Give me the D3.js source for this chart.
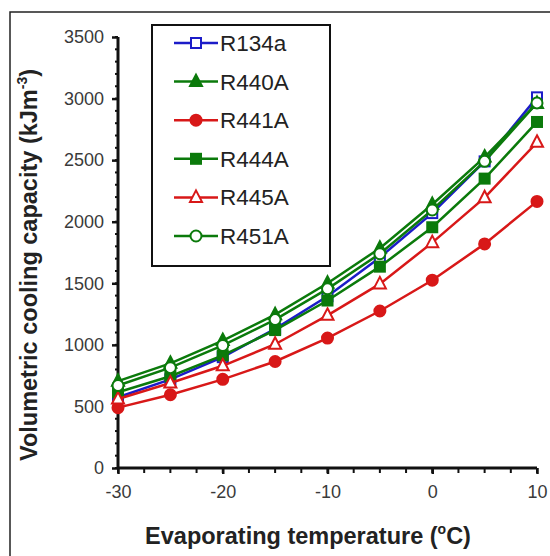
<!DOCTYPE html>
<html><head><meta charset="utf-8">
<script src="https://cdn.jsdelivr.net/npm/d3@7"></script>
<style>body{margin:0;background:#fff}svg{display:block}text{font-family:"Liberation Sans",Arial,sans-serif}</style>
</head><body>
<svg id="c" width="550" height="556"></svg>
<script>
const temps = [-30, -25, -20, -15, -10, -5, 0, 5, 10];
const R134a = [575, 720, 900, 1130, 1395, 1710, 2070, 2490, 3010];
const R440A = [705, 850, 1035, 1245, 1500, 1785, 2140, 2525, 2960];
const R441A = [490, 595, 720, 865, 1055, 1275, 1525, 1820, 2165];
const R444A = [615, 745, 915, 1120, 1360, 1635, 1955, 2350, 2810];
const R445A = [560, 690, 830, 1005, 1240, 1495, 1830, 2195, 2645];
const R451A = [670, 815, 995, 1205, 1455, 1740, 2095, 2490, 2965];
const xTicks = [-30, -20, -10, 0, 10];
const yTicks = [0, 500, 1000, 1500, 2000, 2500, 3000, 3500];

const series = [
  {name: "R134a", values: R134a, color: "#1c1cc8", shape: "square", fill: false},
  {name: "R440A", values: R440A, color: "#0b7a0b", shape: "triangle", fill: true},
  {name: "R441A", values: R441A, color: "#d81818", shape: "circle", fill: true},
  {name: "R444A", values: R444A, color: "#0b7a0b", shape: "square", fill: true},
  {name: "R445A", values: R445A, color: "#d81818", shape: "triangle", fill: false},
  {name: "R451A", values: R451A, color: "#0b7a0b", shape: "circle", fill: false}
];

const svg = d3.select("#c");
const x = d3.scaleLinear().domain([-30, 10]).range([118, 537]);
const y = d3.scaleLinear().domain([0, 3500]).range([468, 37]);

// outer frame
svg.append("rect").attr("x", 10).attr("y", 12).attr("width", 600).attr("height", 600)
  .attr("fill", "none").attr("stroke", "#222").attr("stroke-width", 1.5);

// minor ticks
const g = svg.append("g");
g.selectAll(".ym").data(d3.range(0, 3501, 100)).join("line")
  .attr("x1", x(-30) - 3).attr("x2", x(-30)).attr("y1", d => y(d)).attr("y2", d => y(d))
  .attr("stroke", "#111").attr("stroke-width", 2);
g.selectAll(".xm").data(d3.range(-30, 10.01, 2.5)).join("line")
  .attr("x1", d => x(d)).attr("x2", d => x(d)).attr("y1", y(0)).attr("y2", y(0) + 5)
  .attr("stroke", "#111").attr("stroke-width", 2);

// axes
const yAxis = d3.axisLeft(y).tickValues(yTicks).tickSize(6).tickPadding(8).tickFormat(d => String(d));
const xAxis = d3.axisBottom(x).tickValues(xTicks).tickSize(6).tickPadding(11).tickFormat(d => String(d));
const ya = svg.append("g").attr("transform", `translate(${x(-30)},0)`).call(yAxis);
const xa = svg.append("g").attr("transform", `translate(0,${y(0)})`).call(xAxis);
[ya, xa].forEach(a => {
  a.select(".domain").attr("stroke", "#111").attr("stroke-width", 3);
  a.selectAll(".tick line").attr("stroke", "#111").attr("stroke-width", 2.5);
  a.selectAll(".tick text").attr("font-size", 18).attr("fill", "#3a3a3a")
    .attr("font-family", "Liberation Sans, Arial, sans-serif");
});
xa.select(".domain").attr("d", `M${x(-30)},0H${x(10)}`);
ya.select(".domain").attr("d", `M0,${y(0)}V${y(3500)}`);

// titles
const yt = svg.append("text").attr("transform", "translate(37,265) rotate(-90)")
  .attr("text-anchor", "middle").attr("font-size", 23.5).attr("font-weight", "bold").attr("fill", "#222");
yt.append("tspan").text("Volumetric cooling capacity (kJm");
yt.append("tspan").attr("dy", -10).attr("font-size", 14).text("-3");
yt.append("tspan").attr("dy", 10).text(")");
const xt = svg.append("text").attr("x", 308).attr("y", 544)
  .attr("text-anchor", "middle").attr("font-size", 23.5).attr("font-weight", "bold").attr("fill", "#222");
xt.append("tspan").text("Evaporating temperature (");
xt.append("tspan").attr("dy", -10).attr("font-size", 14).text("o");
xt.append("tspan").attr("dy", 10).text("C)");

function drawMarker(sel, s, cx, cy) {
  const sw = 2;
  const fill = s.fill ? s.color : "#fff";
  if (s.shape === "square") {
    sel.append("rect").attr("x", cx - 5).attr("y", cy - 5).attr("width", 10).attr("height", 10)
      .attr("fill", fill).attr("stroke", s.color).attr("stroke-width", sw);
  } else if (s.shape === "circle") {
    sel.append("circle").attr("cx", cx).attr("cy", cy).attr("r", 5.5)
      .attr("fill", fill).attr("stroke", s.color).attr("stroke-width", sw);
  } else {
    sel.append("path").attr("d", `M${cx},${cy - 7}L${cx + 6},${cy + 4.5}L${cx - 6},${cy + 4.5}Z`)
      .attr("fill", fill).attr("stroke", s.color).attr("stroke-width", sw);
  }
}

const line = d3.line().x((d, i) => x(temps[i])).y(d => y(d));
series.forEach(s => {
  const gg = svg.append("g");
  gg.append("path").attr("d", line(s.values)).attr("fill", "none")
    .attr("stroke", s.color).attr("stroke-width", 2.5);
  s.values.forEach((v, i) => drawMarker(gg, s, x(temps[i]), y(v)));
});

// legend
const lg = svg.append("g");
lg.append("rect").attr("x", 152).attr("y", 25).attr("width", 178).attr("height", 241)
  .attr("fill", "#fff").attr("stroke", "#111").attr("stroke-width", 2);
series.forEach((s, i) => {
  const cy = 43 + i * 38.6;
  lg.append("line").attr("x1", 174).attr("x2", 218).attr("y1", cy).attr("y2", cy)
    .attr("stroke", s.color).attr("stroke-width", 2.5);
  drawMarker(lg, s, 196, cy);
  lg.append("text").attr("x", 220).attr("y", cy + 8).attr("font-size", 22.5).attr("fill", "#222").text(s.name);
});
</script>
</body></html>
